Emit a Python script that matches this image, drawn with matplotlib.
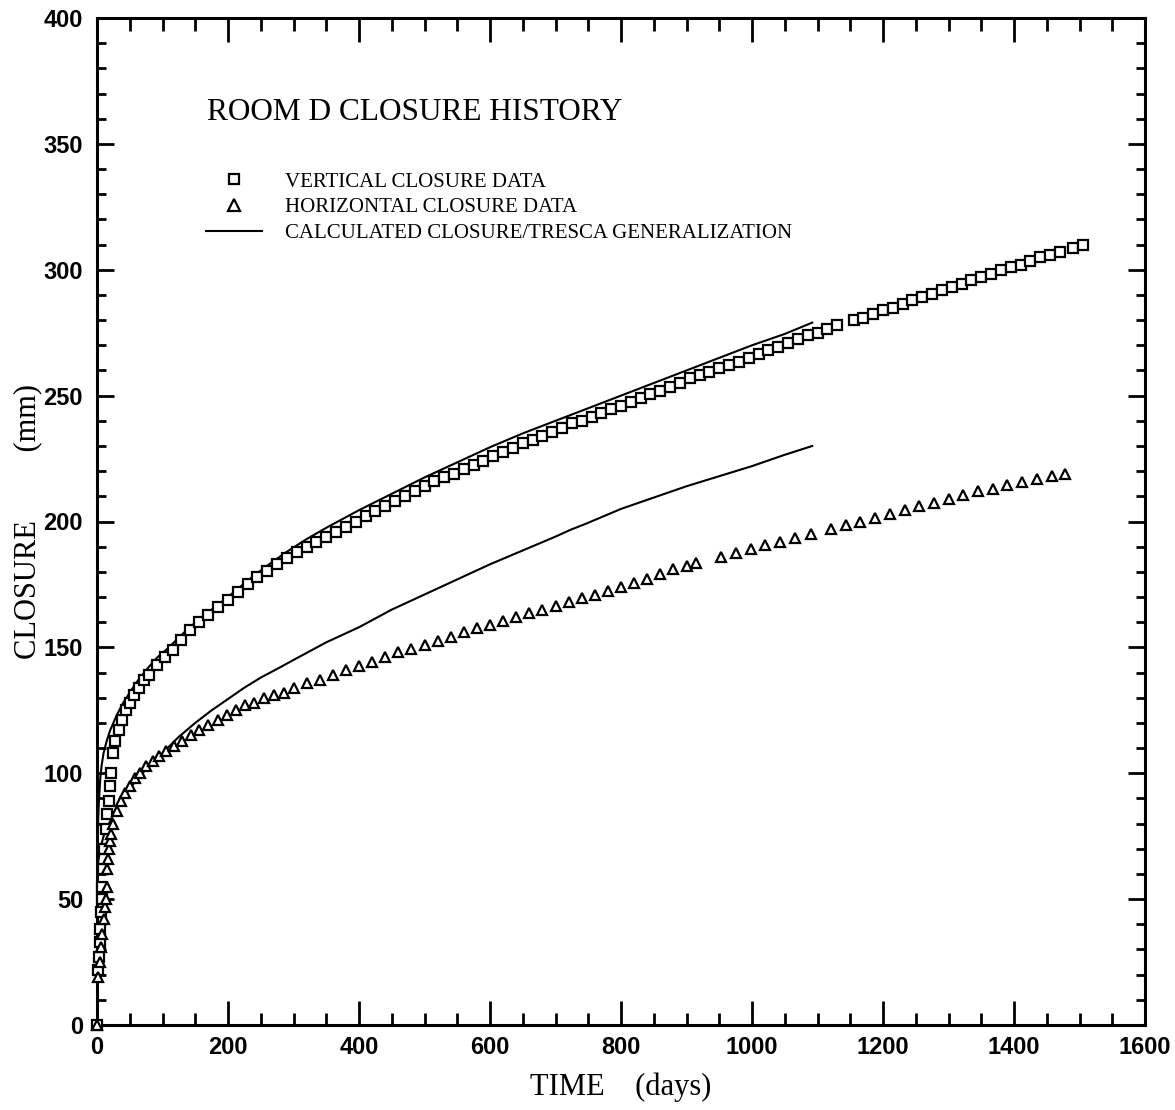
import matplotlib
matplotlib.use("Agg")
import matplotlib.pyplot as plt
from matplotlib.ticker import MultipleLocator

# ---- data ----
vert_time = [0, 2, 3, 4, 5, 6, 7, 8, 9, 11, 13, 15, 18, 20, 22, 24, 28, 33, 38, 44, 50, 57, 64, 72, 80,
             92, 104, 116, 129, 142, 155, 170, 185, 200, 215, 230, 245, 260, 275, 290, 305, 320, 335,
             350, 365, 380, 395, 410, 425, 440, 455, 470, 485, 500, 515, 530, 545, 560, 575, 590, 605,
             620, 635, 650, 665, 680, 695, 710, 725, 740, 755, 770, 785, 800, 815, 830, 845, 860, 875,
             890, 905, 920, 935, 950, 965, 980, 995, 1010, 1025, 1040, 1055, 1070, 1085, 1100, 1115,
             1130, 1155, 1170, 1185, 1200, 1215, 1230, 1245, 1260, 1275, 1290, 1305, 1320, 1335, 1350,
             1365, 1380, 1395, 1410, 1425, 1440, 1455, 1470, 1490, 1505]
vert_closure = [0, 22, 27, 33, 38, 45, 50, 55, 62, 70, 78, 84, 89, 95, 100, 108, 113, 117, 121, 125, 128,
                131, 134, 137, 139, 143, 146, 149, 153, 157, 160, 163, 166, 169, 172, 175, 178, 180.5,
                183, 185.5, 188, 190, 192, 194, 196, 198, 200, 202, 204, 206, 208, 210, 212, 214, 216,
                217.5, 219, 221, 222.5, 224, 226, 227.5, 229, 231, 232.5, 234, 235.5, 237, 239, 240,
                241.5, 243, 244.5, 246, 247.5, 249, 250.5, 252, 253.5, 255, 257, 258, 259.5, 261, 262,
                263.5, 265, 266.5, 268, 269.5, 271, 272.5, 274, 275, 276.5, 278, 280, 281, 282.5, 284,
                285, 286.5, 288, 289, 290.5, 292, 293, 294.5, 296, 297, 298.5, 300, 301, 302, 303.5,
                305, 306, 307, 308.5, 310]

horiz_time = [0, 2, 4, 6, 8, 10, 12, 14, 15, 16, 17, 18, 20, 22, 25, 30, 36, 42, 50, 58, 66, 75, 85, 95,
              105, 117, 130, 143, 156, 170, 184, 198, 212, 226, 240, 255, 270, 285, 300, 320, 340, 360,
              380, 400, 420, 440, 460, 480, 500, 520, 540, 560, 580, 600, 620, 640, 660, 680, 700, 720,
              740, 760, 780, 800, 820, 840, 860, 880, 900, 915, 952, 975, 998, 1020, 1043, 1066, 1090,
              1120, 1143, 1165, 1188, 1210, 1233, 1255, 1278, 1300, 1322, 1345, 1368, 1390, 1412, 1435,
              1458, 1478]
horiz_closure = [0, 19, 25, 31, 36, 42, 47, 50, 55, 62, 66, 70, 73, 76, 80, 85, 89, 92, 95, 98, 100, 103,
                 105, 107, 109, 111, 113, 115, 117, 119, 121, 123, 125, 127, 128, 130, 131, 132, 134,
                 136, 137, 139, 141, 142.5, 144, 146, 148, 149.5, 151, 152.5, 154, 156, 157.5, 159,
                 160.5, 162, 163.5, 165, 166.5, 168, 169.5, 171, 172.5, 174, 175.5, 177, 179, 181,
                 182.5, 183.5, 186, 187.5, 189, 190.5, 192, 193.5, 195, 197, 198.5, 200, 201.5, 203,
                 204.5, 206, 207.5, 209, 210.5, 212, 213, 214.5, 215.5, 217, 218, 219]

calc_vert_time = [0, 1, 2, 3, 5, 7, 10, 15, 20, 30, 40, 50, 60, 75, 92, 110, 125, 142, 160, 180, 200, 230,
                  260, 290, 320, 350, 400, 450, 500, 550, 600, 650, 700, 750, 800, 850, 900, 950, 1000,
                  1050, 1092]
calc_vert_closure = [60, 74, 83, 89, 98, 103, 108, 113, 117, 123, 128, 132, 136, 141, 146, 150, 154, 158,
                     162, 166, 170, 176.5, 182.5, 188, 193, 197.5, 204.5, 211, 217.5, 223.5, 229.5, 235,
                     240, 245, 250, 255, 260, 265, 270, 274.5, 279]

calc_horiz_time = [0, 2, 5, 10, 15, 20, 30, 40, 50, 66, 80, 100, 125, 150, 175, 200, 225, 250, 279, 300,
                   350, 400, 450, 500, 550, 600, 650, 700, 722, 750, 800, 850, 900, 950, 1000, 1050, 1092]
calc_horiz_closure = [60, 65, 70, 75, 78, 81, 86, 90, 94, 99, 103, 108, 114.5, 120, 125, 129.5, 134, 138,
                      142, 145, 152, 158, 165, 171, 177, 183, 188.5, 194, 196.6, 199.5, 205, 209.5, 214,
                      218, 222, 226.5, 230]

legend_labels = ["VERTICAL CLOSURE DATA", "HORIZONTAL CLOSURE DATA",
                 "CALCULATED CLOSURE/TRESCA GENERALIZATION"]
title_text = "ROOM D CLOSURE HISTORY"
x_ticks = [0, 200, 400, 600, 800, 1000, 1200, 1400, 1600]
y_ticks = [0, 50, 100, 150, 200, 250, 300, 350, 400]

# ---- figure ----
W, H = 1175, 1110
fig = plt.figure(figsize=(W / 100, H / 100), dpi=100)
ax = fig.add_axes([97 / W, 1 - 1025 / H, (1145 - 97) / W, (1025 - 18) / H])

serif = ["Liberation Serif", "DejaVu Serif"]
sans = ["Liberation Sans", "DejaVu Sans"]

lw = 1.5
sq, = ax.plot(vert_time, vert_closure, linestyle="none", marker="s", markersize=6.5,
              markerfacecolor="white", markeredgecolor="black", markeredgewidth=1.6,
              clip_on=False, zorder=3)
tr, = ax.plot(horiz_time, horiz_closure, linestyle="none", marker="^", markersize=7,
              markerfacecolor="white", markeredgecolor="black", markeredgewidth=1.6,
              clip_on=False, zorder=3)
ln, = ax.plot(calc_vert_time, calc_vert_closure, color="black", linewidth=lw, zorder=2)
ax.plot(calc_horiz_time, calc_horiz_closure, color="black", linewidth=lw, zorder=2)

ax.set_xlim(0, 1600)
ax.set_ylim(0, 400)
ax.set_xticks(x_ticks)
ax.set_yticks(y_ticks)
ax.xaxis.set_minor_locator(MultipleLocator(50))
ax.yaxis.set_minor_locator(MultipleLocator(10))

for s in ax.spines.values():
    s.set_linewidth(2.2)

ax.tick_params(which="both", direction="in", top=True, right=True, width=2.0)
ax.xaxis.set_tick_params(which="major", length=17, pad=8)
ax.xaxis.set_tick_params(which="minor", length=9)
ax.yaxis.set_tick_params(which="major", length=12, pad=10)
ax.yaxis.set_tick_params(which="minor", length=6.5)

for lab in ax.get_xticklabels() + ax.get_yticklabels():
    lab.set_fontfamily(sans)
    lab.set_fontweight("bold")
    lab.set_fontsize(17)

ax.set_xlabel("TIME    (days)", fontfamily=serif, fontsize=22, labelpad=10)
ax.set_ylabel("CLOSURE         (mm)", fontfamily=serif, fontsize=22)
ax.yaxis.set_label_coords(-0.052, 0.5)

ax.text(0.105, 0.906, title_text, transform=ax.transAxes, fontfamily=serif,
        fontsize=22.5, va="center", ha="left")

leg = ax.legend([sq, tr, ln], legend_labels, loc="upper left",
                bbox_to_anchor=(0.104, 0.847), frameon=False,
                prop={"family": serif, "size": 15}, handlelength=2.7,
                handletextpad=1.1, labelspacing=0.29, borderpad=0, borderaxespad=0,
                markerscale=1.2)

fig.savefig("out.png", dpi=100, facecolor="white")
